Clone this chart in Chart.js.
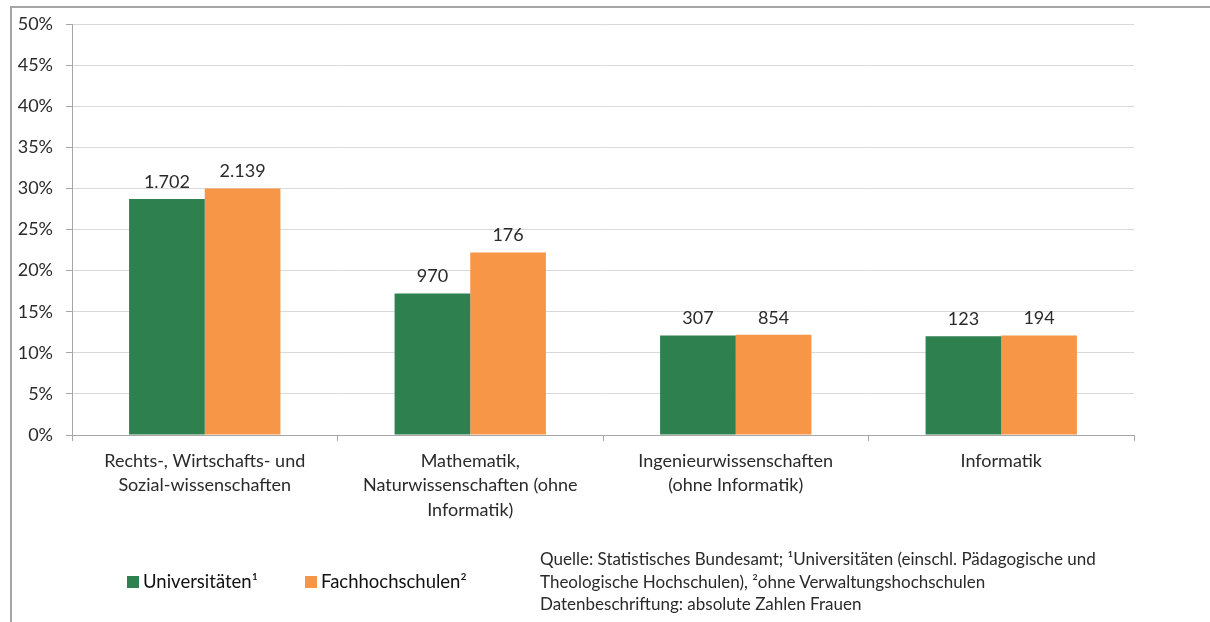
<!DOCTYPE html>
<html><head><meta charset="utf-8">
<script src="https://cdn.jsdelivr.net/npm/chart.js@4.4.0/dist/chart.umd.min.js"></script>
<style>
html,body{margin:0;padding:0;background:#fff;}
#wrap{position:relative;width:1210px;height:622px;overflow:hidden;}
#frame{position:absolute;left:10px;top:6px;width:1300px;height:700px;border-left:2px solid #a6a6a6;border-top:2px solid #a6a6a6;box-sizing:border-box;}
canvas{position:absolute;left:0;top:0;}
#src{position:absolute;left:540px;top:548px;font-family:Lato,sans-serif;font-size:17px;line-height:22.5px;color:#2a2a2a;white-space:nowrap;}
</style></head>
<body><div id="wrap"><div id="frame"></div><canvas id="c" width="1210" height="622"></canvas>
<div id="src">Quelle: Statistisches Bundesamt; ¹Universitäten (einschl. Pädagogische und<br>Theologische Hochschulen), ²ohne Verwaltungshochschulen<br>Datenbeschriftung: absolute Zahlen Frauen</div></div>
<script>
const categories = [
  ["Rechts-, Wirtschafts- und", "Sozial-wissenschaften"],
  ["Mathematik,", "Naturwissenschaften (ohne", "Informatik)"],
  ["Ingenieurwissenschaften", "(ohne Informatik)"],
  ["Informatik"]
];
const seriesNames = ["Universitäten¹", "Fachhochschulen²"];
const uniShare = [28.7, 17.2, 12.1, 12.0];
const fhShare = [30.0, 22.2, 12.2, 12.1];
const uniCounts = ["1.702", "970", "307", "123"];
const fhCounts = ["2.139", "176", "854", "194"];
const yTicks = [0, 5, 10, 15, 20, 25, 30, 35, 40, 45, 50];

const FONT = 'Lato, sans-serif';
const TXT = '#2a2a2a';

const dataLabels = {
  id: 'dataLabels',
  afterDatasetsDraw(chart) {
    const ctx = chart.ctx;
    const counts = [uniCounts, fhCounts];
    ctx.save();
    ctx.font = '18px ' + FONT;
    ctx.fillStyle = TXT;
    ctx.textAlign = 'center';
    ctx.textBaseline = 'bottom';
    chart.data.datasets.forEach((ds, i) => {
      chart.getDatasetMeta(i).data.forEach((bar, j) => {
        ctx.fillText(counts[i][j], bar.x, bar.y - 8);
      });
    });
    ctx.restore();
  }
};

const customLegend = {
  id: 'customLegend',
  afterDraw(chart) {
    const ctx = chart.ctx;
    const xs = [127, 305];
    const y = 582;
    ctx.save();
    ctx.font = '18.5px ' + FONT;
    ctx.textBaseline = 'middle';
    ctx.textAlign = 'left';
    chart.data.datasets.forEach((ds, i) => {
      ctx.fillStyle = ds.backgroundColor;
      ctx.fillRect(xs[i], y - 6, 12, 12);
      ctx.fillStyle = '#111';
      ctx.fillText(ds.label, xs[i] + 16, y);
    });
    ctx.restore();
  }
};

new Chart(document.getElementById('c'), {
  type: 'bar',
  data: {
    labels: categories,
    datasets: [
      { label: seriesNames[0], data: uniShare, backgroundColor: '#2e804f', categoryPercentage: 0.57, barPercentage: 1.0 },
      { label: seriesNames[1], data: fhShare, backgroundColor: '#f79646', categoryPercentage: 0.57, barPercentage: 1.0 }
    ]
  },
  options: {
    responsive: false,
    animation: false,
    devicePixelRatio: 1,
    layout: { padding: { left: 0, right: 76, top: 24, bottom: 0 } },
    plugins: { legend: { display: false }, tooltip: { enabled: false } },
    scales: {
      x: {
        grid: { drawOnChartArea: false, drawTicks: true, tickLength: 6, color: '#a6a6a6', offset: true },
        border: { color: '#a6a6a6', width: 1 },
        ticks: { color: TXT, font: { family: FONT, size: 18, lineHeight: 1.35 }, padding: 8, maxRotation: 0, autoSkip: false },
        afterFit(s) { s.height = 622 - 435; }
      },
      y: {
        min: 0, max: 50,
        afterBuildTicks(s) { s.ticks = yTicks.map(v => ({ value: v })); },
        grid: { color: '#d9d9d9', tickColor: '#a6a6a6', tickLength: 6, lineWidth: 1 },
        border: { color: '#a6a6a6', width: 1 },
        ticks: { color: TXT, font: { family: FONT, size: 18 }, padding: 13, callback: v => v + '%' },
        afterFit(s) { s.width = 72; }
      }
    }
  },
  plugins: [dataLabels, customLegend]
});
</script></body></html>
